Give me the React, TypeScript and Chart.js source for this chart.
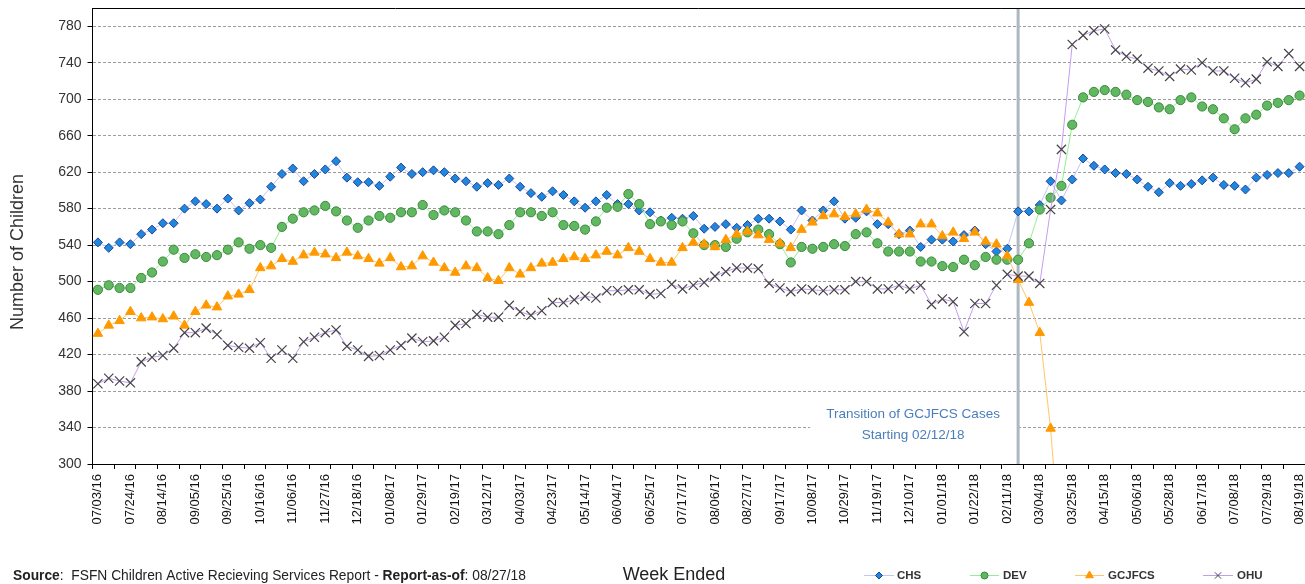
import React, { useEffect, useRef } from 'react';
import { Chart, registerables } from 'chart.js';

Chart.register(...registerables);

// ---------- data ----------
const tickLabels = [
  '07/03/16', '07/24/16', '08/14/16', '09/05/16', '09/25/16', '10/16/16', '11/06/16', '11/27/16',
  '12/18/16', '01/08/17', '01/29/17', '02/19/17', '03/12/17', '04/03/17', '04/23/17', '05/14/17',
  '06/04/17', '06/25/17', '07/17/17', '08/06/17', '08/27/17', '09/17/17', '10/08/17', '10/29/17',
  '11/19/17', '12/10/17', '01/01/18', '01/22/18', '02/11/18', '03/04/18', '03/25/18', '04/15/18',
  '05/06/18', '05/28/18', '06/17/18', '07/08/18', '07/29/18', '08/19/18',
];

const yTickValues = [300, 340, 380, 420, 460, 500, 540, 580, 620, 660, 700, 740, 780];

const chsValues = [
  543, 537, 543, 541, 552, 557, 564, 564, 580, 588, 585, 580, 591, 578, 586, 590, 604, 618, 624, 610,
  618, 623, 632, 614, 609, 609, 605, 615, 625, 618, 620, 622, 620,
  613, 610, 604, 608, 606, 613, 604, 597, 593, 599, 595, 588, 581, 588, 595, 585, 585, 578, 576, 567,
  570, 569, 572, 558, 560, 563, 559, 562, 569, 569, 566, 557, 578, 567, 578, 588, 569, 570, 577, 563, 563,
  552, 556, 538, 546, 546, 544, 551, 556, 541, 533, 536, 577, 577, 584, 610, 589, 612, 635, 627, 623,
  619, 618, 612, 604, 598, 608, 605, 607, 611, 614, 606, 605, 601, 614, 617, 619, 619, 626,
];

const devValues = [
  491, 496, 493, 493, 504, 510, 522, 535, 526, 530, 527, 529, 535, 543, 536, 540, 537, 560, 569, 576,
  578, 583, 577, 567, 559, 567, 572, 570, 576, 576, 584, 573, 578,
  576, 567, 555, 555, 552, 562, 576, 576, 572, 576, 562, 561, 557, 566, 581, 582, 596, 585, 563, 566,
  562, 566, 553, 540, 540, 538, 547, 554, 557, 552, 541, 521, 538, 536, 538, 541, 539, 552, 554, 542, 533,
  533, 533, 522, 522, 517, 516, 524, 518, 527, 524, 524, 524, 542, 579, 592, 605, 672, 702, 708, 710,
  708, 705, 699, 697, 691, 689, 699, 702, 692, 689, 679, 667, 679, 683, 693, 696, 699, 704,
];

const gcjfcsValues = [
  443, 452, 457, 467, 460, 461, 459, 462, 452, 467, 474, 472, 484, 486, 491, 515, 517, 525, 522, 529,
  532, 530, 526, 532, 528, 525, 520, 526, 516, 517, 528, 521, 515,
  510, 517, 515, 504, 501, 515, 508, 515, 520, 521, 525, 527, 525, 529, 533, 529, 537, 533, 525, 521,
  521, 537, 543, 541, 538, 546, 552, 555, 551, 546, 542, 537, 557, 565, 572, 574, 571, 574, 579, 575, 565,
  552, 552, 563, 563, 550, 554, 547, 554, 544, 541, 528, 502, 477, 444, 339, 188,
  null, null, null, null, null, null, null, null, null, null, null, null, null, null, null, null, null,
  null, null, null, null, null,
];

const ohuValues = [
  388, 394, 391, 389, 412, 417, 419, 427, 444, 444, 449, 442, 430, 428, 427, 433, 416, 425, 416, 434,
  439, 444, 447, 429, 425, 418, 419, 425, 430, 438, 434, 435, 439,
  452, 454, 464, 461, 461, 474, 467, 463, 468, 477, 477, 480, 484, 482, 490, 490, 491, 491, 486, 487,
  497, 492, 496, 499, 506, 511, 515, 515, 514, 498, 493, 489, 492, 491, 490, 491, 491, 500, 500, 492, 492,
  496, 492, 496, 475, 481, 478, 445, 476, 476, 496, 508, 506, 506, 498, 579, 645, 760, 770, 775, 777,
  754, 747, 744, 734, 731, 725, 733, 732, 740, 731, 731, 723, 718, 722, 741, 736, 750, 736,
];

// weekly categories (week ended)
const categories: string[] = (() => {
  const out: string[] = [];
  const start = new Date(2016, 6, 3);
  for (let i = 0; i < chsValues.length; i++) {
    const d = new Date(start.getFullYear(), start.getMonth(), start.getDate() + 7 * i);
    const mm = String(d.getMonth() + 1).padStart(2, '0');
    const dd = String(d.getDate()).padStart(2, '0');
    const yy = String(d.getFullYear() % 100).padStart(2, '0');
    out.push(`${mm}/${dd}/${yy}`);
  }
  return out;
})();

const transitionWeek = '02/18/18';
const annotationLines = ['Transition of GCJFCS Cases', 'Starting 02/12/18'];

// ---------- styles ----------
const FONT = "'Liberation Sans', Arial, Helvetica, sans-serif";

const seriesStyles = [
  { label: 'CHS', data: chsValues, line: '#C4C4F6', fill: '#1E88DA', stroke: '#22409E', style: 'rectRot', r: 4.5, bw: 1, order: 4 },
  { label: 'DEV', data: devValues, line: '#94EE94', fill: '#62B862', stroke: '#3A8A3A', style: 'circle', r: 4.6, bw: 1, order: 3 },
  { label: 'GCJFCS', data: gcjfcsValues, line: '#FFC56A', fill: '#FF9900', stroke: '#FF9900', style: 'triangle', r: 5.5, bw: 1, order: 2 },
  { label: 'OHU', data: ohuValues, line: '#C59CF2', fill: 'rgba(0,0,0,0)', stroke: '#444444', style: 'crossRot', r: 6.5, bw: 1.2, order: 1 },
];

function drawMarker(ctx: CanvasRenderingContext2D, style: string, x: number, y: number, r: number, fill: string, stroke: string) {
  ctx.save();
  ctx.fillStyle = fill;
  ctx.strokeStyle = stroke;
  ctx.lineWidth = 1;
  ctx.beginPath();
  if (style === 'rectRot') {
    ctx.moveTo(x - r, y);
    ctx.lineTo(x, y - r);
    ctx.lineTo(x + r, y);
    ctx.lineTo(x, y + r);
    ctx.closePath();
    ctx.fill();
    ctx.stroke();
  } else if (style === 'circle') {
    ctx.arc(x, y, r, 0, Math.PI * 2);
    ctx.fill();
    ctx.stroke();
  } else if (style === 'triangle') {
    ctx.moveTo(x, y - r);
    ctx.lineTo(x + r * 0.866, y + r * 0.5);
    ctx.lineTo(x - r * 0.866, y + r * 0.5);
    ctx.closePath();
    ctx.fill();
    ctx.stroke();
  } else {
    const d = r * 0.7071;
    ctx.moveTo(x - d, y - d);
    ctx.lineTo(x + d, y + d);
    ctx.moveTo(x + d, y - d);
    ctx.lineTo(x - d, y + d);
    ctx.stroke();
  }
  ctx.restore();
}

const legendLayout = [
  { x0: 864, x1: 894, tx: 897, r: 3.5 },
  { x0: 970, x1: 999, tx: 1003, r: 3.5 },
  { x0: 1075, x1: 1104, tx: 1108, r: 4.5 },
  { x0: 1203, x1: 1233, tx: 1237, r: 4.5 },
];

const decorPlugin = {
  id: 'decor',
  beforeDatasetsDraw(chart: any) {
    const { ctx, chartArea: ca, scales } = chart;
    const idx = categories.indexOf(transitionWeek);
    const lx = scales.x.getPixelForValue(idx);
    ctx.save();
    // annotation box
    const boxTop = scales.y.getPixelForValue(372);
    const boxBottom = scales.y.getPixelForValue(313);
    const boxRight = lx - 2;
    const boxLeft = boxRight - 206;
    ctx.fillStyle = '#ffffff';
    ctx.fillRect(boxLeft, boxTop, boxRight - boxLeft, boxBottom - boxTop);
    ctx.fillStyle = '#4A7EBB';
    ctx.font = `13.5px ${FONT}`;
    ctx.textAlign = 'center';
    ctx.textBaseline = 'middle';
    const cx = (boxLeft + boxRight) / 2;
    ctx.fillText(annotationLines[0], cx, scales.y.getPixelForValue(354));
    ctx.fillText(annotationLines[1], cx, scales.y.getPixelForValue(332));
    // transition line
    ctx.strokeStyle = '#AEB6C2';
    ctx.lineWidth = 3;
    ctx.beginPath();
    ctx.moveTo(lx, ca.top);
    ctx.lineTo(lx, ca.bottom);
    ctx.stroke();
    // top border
    ctx.strokeStyle = '#000';
    ctx.lineWidth = 1;
    ctx.beginPath();
    ctx.moveTo(ca.left, ca.top + 0.5);
    ctx.lineTo(ca.right, ca.top + 0.5);
    ctx.stroke();
    ctx.restore();
  },
  afterDraw(chart: any) {
    const { ctx } = chart;
    ctx.save();
    // y title
    ctx.fillStyle = '#333';
    ctx.font = `18px ${FONT}`;
    ctx.textAlign = 'center';
    ctx.textBaseline = 'middle';
    ctx.translate(18, 252);
    ctx.rotate(-Math.PI / 2);
    ctx.fillText('Number of Children', 0, 0);
    ctx.restore();

    ctx.save();
    // x title
    ctx.fillStyle = '#222';
    ctx.font = `18px ${FONT}`;
    ctx.textAlign = 'center';
    ctx.textBaseline = 'middle';
    ctx.fillText('Week Ended', 674, 575);

    // source line
    const parts: [string, boolean][] = [
      ['Source', true],
      [':  FSFN Children Active Recieving Services Report - ', false],
      ['Report-as-of', true],
      [': 08/27/18', false],
    ];
    let sx = 13;
    ctx.textAlign = 'left';
    ctx.fillStyle = '#222';
    for (const [t, b] of parts) {
      ctx.font = `${b ? 'bold ' : ''}13.8px ${FONT}`;
      ctx.fillText(t, sx, 576);
      sx += ctx.measureText(t).width;
    }

    // legend
    seriesStyles.forEach((s, i) => {
      const L = legendLayout[i];
      const y = 575.5;
      ctx.strokeStyle = s.line;
      ctx.lineWidth = 1;
      ctx.beginPath();
      ctx.moveTo(L.x0, y);
      ctx.lineTo(L.x1, y);
      ctx.stroke();
      drawMarker(ctx, s.style, (L.x0 + L.x1) / 2, y, L.r, s.fill, s.stroke);
      ctx.fillStyle = '#333';
      ctx.font = `bold 11.5px ${FONT}`;
      ctx.textAlign = 'left';
      ctx.textBaseline = 'middle';
      ctx.fillText(s.label, L.tx, y);
    });
    ctx.restore();
  },
};

export default function App() {
  const ref = useRef<HTMLCanvasElement | null>(null);

  useEffect(() => {
    if (!ref.current) return;
    Chart.defaults.font.family = FONT;
    const chart = new Chart(ref.current, {
      type: 'line',
      data: {
        labels: categories,
        datasets: seriesStyles.map((s) => ({
          label: s.label,
          data: s.data,
          borderColor: s.line,
          borderWidth: 1,
          backgroundColor: s.fill,
          pointStyle: s.style as any,
          pointRadius: s.r,
          pointBackgroundColor: s.fill,
          pointBorderColor: s.stroke,
          pointBorderWidth: s.bw,
          tension: 0,
          fill: false,
          spanGaps: false,
          order: s.order,
        })),
      },
      options: {
        responsive: false,
        animation: false,
        events: [],
        layout: { autoPadding: false, padding: { top: 8, left: 0, right: 0, bottom: 0 } },
        plugins: {
          legend: { display: false },
          tooltip: { enabled: false },
          title: { display: false },
        },
        scales: {
          x: {
            type: 'category',
            offset: true,
            grid: {
              display: true,
              drawOnChartArea: false,
              drawTicks: true,
              offset: true,
              tickLength: 5,
              tickWidth: 1,
              tickColor: (c: any) => (c.index % 2 === 0 ? '#000' : 'rgba(0,0,0,0)'),
            },
            border: { display: true, color: '#000', width: 1 },
            ticks: {
              autoSkip: false,
              maxRotation: 90,
              minRotation: 90,
              padding: 5,
              color: '#111',
              font: { size: 13, family: FONT },
              callback: (_v: any, i: number) => (i % 3 === 0 ? tickLabels[i / 3] : ''),
            },
            afterFit: (s: any) => {
              s.height = 120;
              s.paddingLeft = 0;
              s.paddingRight = 0;
            },
          },
          y: {
            min: 300,
            max: 800,
            afterBuildTicks: (s: any) => {
              s.ticks = yTickValues.map((v) => ({ value: v }));
            },
            grid: {
              color: '#9C9C9C',
              lineWidth: 1,
              drawTicks: true,
              tickLength: 5,
              tickColor: '#000',
            },
            border: { display: true, color: '#000', width: 1, dash: [3, 2] },
            ticks: {
              padding: 6,
              color: '#333',
              font: { size: 14, family: FONT },
            },
            afterFit: (s: any) => {
              s.width = 92.5;
              s.paddingTop = 0;
              s.paddingBottom = 0;
            },
          },
        },
      } as any,
      plugins: [decorPlugin],
    });
    return () => chart.destroy();
  }, []);

  return (
    <div style={{ position: 'absolute', left: 0, top: 0, width: 1305, height: 584, background: '#fff' }}>
      <canvas ref={ref} width={1305} height={584} style={{ display: 'block', width: 1305, height: 584 }} />
    </div>
  );
}
